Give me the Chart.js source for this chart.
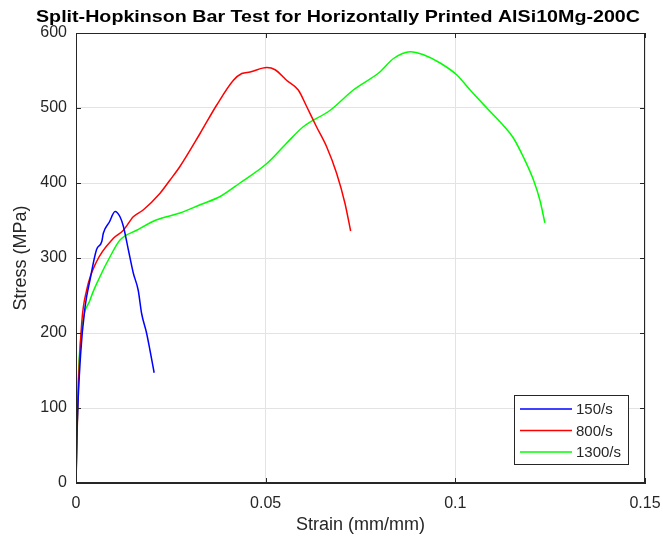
<!DOCTYPE html>
<html>
<head>
<meta charset="utf-8">
<script src="https://cdn.jsdelivr.net/npm/chart.js@4"></script>
<style>
  html, body { margin: 0; padding: 0; background: #fff; }
  #wrap { width: 663px; height: 538px; }
</style>
</head>
<body>
<div id="wrap"><canvas id="shpbChart" width="663" height="538"></canvas></div>
<script>
const chartTitle = 'Split-Hopkinson Bar Test for Horizontally Printed AlSi10Mg-200C';
const seriesLabels = ['150/s', '800/s', '1300/s'];
const seriesColors = ['#0000ff', '#ff0000', '#00ff00'];

const strain150 = [0, 0.0002, 0.0012, 0.0024, 0.0037, 0.0054, 0.0068, 0.0072, 0.0088, 0.0103, 0.0116, 0.0125, 0.0138, 0.0151, 0.0164, 0.0173, 0.0186, 0.0195, 0.0206];
const stress150 = [0, 57, 170, 235, 271, 311, 322, 333, 348, 362, 355, 342, 311, 280, 257, 226, 200, 177, 147];

const strain800 = [0, 0.0005, 0.0015, 0.0028, 0.0054, 0.0098, 0.0125, 0.0151, 0.0177, 0.0221, 0.0248, 0.0274, 0.0327, 0.0371, 0.0415, 0.0437, 0.0459, 0.0503, 0.0525, 0.0555, 0.0586, 0.0608, 0.0634, 0.0661, 0.0687, 0.0709, 0.0724];
const stress800 = [0, 110, 213, 257, 295, 326, 337, 355, 364, 386, 404, 422, 466, 504, 537, 546, 548, 554, 551, 537, 524, 502, 475, 448, 413, 373, 336];

const strain1300 = [0, 0.0006, 0.0015, 0.0037, 0.0063, 0.009, 0.0116, 0.016, 0.0213, 0.0274, 0.0327, 0.038, 0.0432, 0.0503, 0.0555, 0.0599, 0.067, 0.0731, 0.0801, 0.0837, 0.0881, 0.0916, 0.096, 0.1004, 0.1039, 0.1083, 0.1126, 0.1153, 0.1179, 0.1206, 0.1223, 0.1236];
const stress1300 = [0, 137, 204, 244, 275, 302, 324, 337, 351, 360, 371, 382, 400, 426, 453, 475, 497, 524, 548, 566, 575, 571, 560, 544, 524, 500, 477, 460, 435, 404, 377, 347];

const xTicks = [0, 0.05, 0.1, 0.15];
const yTicks = [0, 100, 200, 300, 400, 500, 600];

const strains = [strain150, strain800, strain1300];
const stresses = [stress150, stress800, stress1300];

const axisColor = '#262626';
const gridColor = '#e3e3e3';
const fontFamily = '"Liberation Sans", Arial, sans-serif';

// box round the plot area, inward ticks, legend and a stretched title
const boxPlugin = {
  id: 'boxPlugin',
  afterDatasetsDraw(chart) {
    const { ctx, chartArea: a, scales } = chart;
    ctx.save();
    ctx.strokeStyle = axisColor;
    ctx.lineWidth = 1;
    ctx.strokeRect(a.left + 0.5, a.top + 0.5, a.right - a.left - 1, a.bottom - a.top - 1);
    ctx.beginPath();
    xTicks.forEach(v => {
      const px = Math.round(scales.x.getPixelForValue(v)) + 0.5;
      ctx.moveTo(px, a.bottom); ctx.lineTo(px, a.bottom - 5);
      ctx.moveTo(px, a.top); ctx.lineTo(px, a.top + 5);
    });
    yTicks.forEach(v => {
      const py = Math.round(scales.y.getPixelForValue(v)) + 0.5;
      ctx.moveTo(a.left, py); ctx.lineTo(a.left + 5, py);
      ctx.moveTo(a.right, py); ctx.lineTo(a.right - 5, py);
    });
    ctx.stroke();

    // legend
    const lx = a.right - 131, ly = a.bottom - 88, lw = 114, lh = 69;
    ctx.fillStyle = '#fff';
    ctx.fillRect(lx, ly, lw, lh);
    ctx.strokeStyle = axisColor;
    ctx.strokeRect(lx + 0.5, ly + 0.5, lw, lh);
    ctx.font = '15px ' + fontFamily;
    ctx.textBaseline = 'middle';
    seriesLabels.forEach((lab, i) => {
      const y = ly + 14 + i * 21.5;
      ctx.strokeStyle = seriesColors[i];
      ctx.lineWidth = 1.3;
      ctx.beginPath();
      ctx.moveTo(lx + 6, y); ctx.lineTo(lx + 58, y);
      ctx.stroke();
      ctx.fillStyle = axisColor;
      ctx.fillText(lab, lx + 62, y + 1);
    });

    // title, stretched to the reference width
    ctx.font = 'bold 17px ' + fontFamily;
    ctx.fillStyle = '#000';
    ctx.textBaseline = 'alphabetic';
    ctx.textAlign = 'center';
    const w = ctx.measureText(chartTitle).width;
    const k = 604 / w;
    ctx.translate(338, 22);
    ctx.scale(k, 1);
    ctx.fillText(chartTitle, 0, 0);
    ctx.restore();
  }
};

const ctx = document.getElementById('shpbChart').getContext('2d');
new Chart(ctx, {
  type: 'line',
  data: {
    datasets: seriesLabels.map((lab, i) => ({
      label: lab,
      data: strains[i].map((s, j) => ({ x: s, y: stresses[i][j] })),
      borderColor: seriesColors[i],
      borderWidth: 1.5,
      pointRadius: 0,
      fill: false,
      cubicInterpolationMode: 'monotone'
    }))
  },
  options: {
    responsive: false,
    animation: false,
    layout: { padding: { left: 0, right: 18, top: 33, bottom: 2 } },
    plugins: {
      legend: { display: false },
      tooltip: { enabled: false },
      title: { display: false }
    },
    scales: {
      x: {
        type: 'linear',
        min: 0,
        max: 0.15,
        afterBuildTicks: s => { s.ticks = xTicks.map(v => ({ value: v })); },
        afterFit: s => { s.height = 53; s.paddingLeft = 0; s.paddingRight = 0; },
        ticks: {
          color: axisColor,
          font: { family: fontFamily, size: 16 },
          padding: 11,
          maxRotation: 0,
          callback: v => String(parseFloat(v.toFixed(2)))
        },
        grid: { color: gridColor, drawTicks: false },
        border: { color: axisColor },
        title: {
          display: true,
          text: 'Strain (mm/mm)',
          color: axisColor,
          font: { family: fontFamily, size: 18 },
          padding: { top: 6, bottom: 0 }
        }
      },
      y: {
        min: 0,
        max: 600,
        afterBuildTicks: s => { s.ticks = yTicks.map(v => ({ value: v })); },
        afterFit: s => { s.width = 76; s.paddingTop = 0; s.paddingBottom = 0; },
        ticks: {
          color: axisColor,
          font: { family: fontFamily, size: 16 },
          padding: 9
        },
        grid: { color: gridColor, drawTicks: false },
        border: { color: axisColor },
        title: {
          display: true,
          text: 'Stress (MPa)',
          color: axisColor,
          font: { family: fontFamily, size: 18 },
          padding: { top: 10, bottom: 0 }
        }
      }
    }
  },
  plugins: [boxPlugin]
});
</script>
</body>
</html>
